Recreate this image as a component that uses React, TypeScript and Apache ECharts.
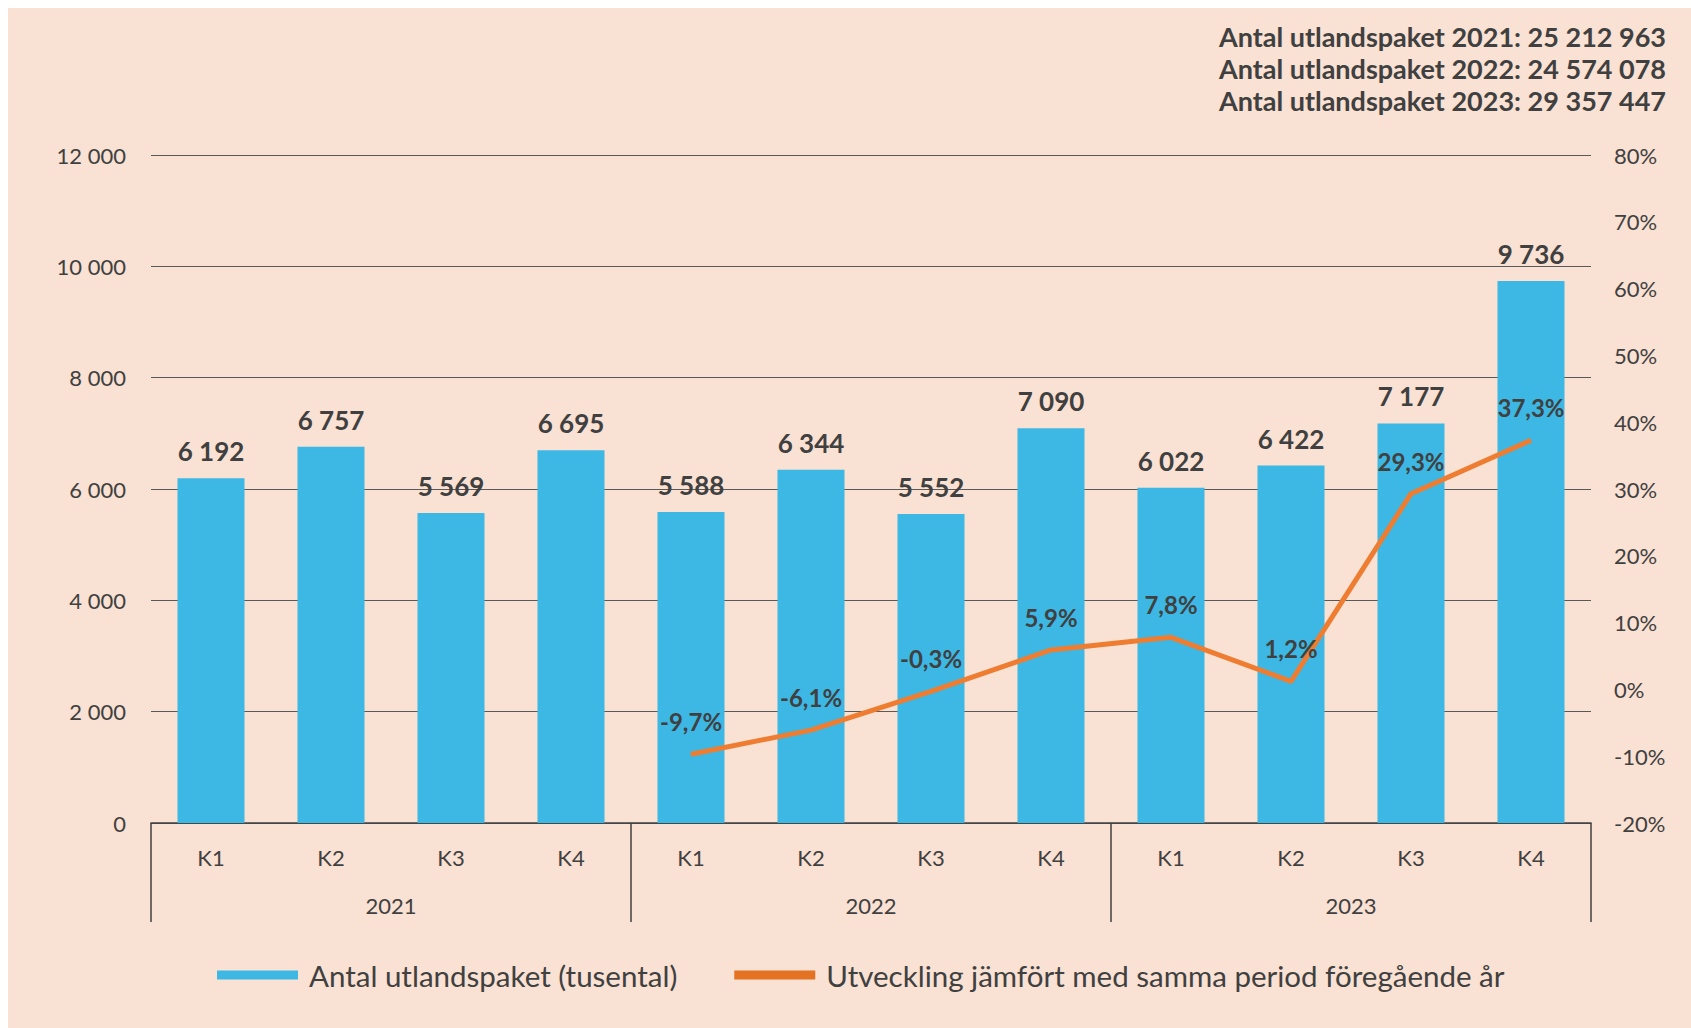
import React, { useEffect, useRef } from "react";
import * as echarts from "echarts";

const quarters = ["K1", "K2", "K3", "K4", "K1", "K2", "K3", "K4", "K1", "K2", "K3", "K4"];
const years = ["2021", "2022", "2023"];
const packages = [6192, 6757, 5569, 6695, 5588, 6344, 5552, 7090, 6022, 6422, 7177, 9736];
const growth = [null, null, null, null, -9.7, -6.1, -0.3, 5.9, 7.8, 1.2, 29.3, 37.3];
const totals = [
  "Antal utlandspaket 2021: 25 212 963",
  "Antal utlandspaket 2022: 24 574 078",
  "Antal utlandspaket 2023: 29 357 447",
];
const seriesNames = ["Antal utlandspaket (tusental)", "Utveckling jämfört med samma period föregående år"];

const FONT = "Lato, 'Open Sans', sans-serif";
const TEXT = "#404040";
const BAR = "#3DB7E4";
const LINE = "#EE7D31";

const fmtThousands = (v: number) => String(v).replace(/\B(?=(\d{3})+(?!\d))/g, " ");

export default function App() {
  const ref = useRef<HTMLDivElement>(null);
  useEffect(() => {
    if (!ref.current) return;
    const chart = echarts.init(ref.current, undefined, { renderer: "svg" });
    chart.setOption({
      animation: false,
      backgroundColor: "#F9E1D3",
      textStyle: { fontFamily: FONT },
      grid: { left: 143, right: 100, top: 147, bottom: 205, containLabel: false },
      legend: {
        left: 204,
        top: 947,
        icon: "rect",
        itemWidth: 81,
        itemHeight: 9,
        itemGap: 57,
        textStyle: { color: TEXT, fontSize: 29.5, fontFamily: FONT, padding: [0, 0, 0, 6] },
        data: [
          { name: seriesNames[0], itemStyle: { color: BAR } },
          { name: seriesNames[1], itemStyle: { color: "#E37222" } },
        ],
      },
      graphic: totals.map((t, i) => ({
        type: "text",
        right: 25,
        top: 15 + i * 32,
        style: {
          text: t,
          fill: TEXT,
          font: `bold 27px ${FONT}`,
          textAlign: "right",
        },
      })),
      xAxis: [
        {
          type: "category",
          data: quarters,
          axisLine: { onZero: false, lineStyle: { color: TEXT, width: 1.5 } },
          axisTick: { show: false },
          axisLabel: { color: TEXT, fontSize: 22, margin: 23, fontFamily: FONT },
        },
        {
          type: "category",
          data: years,
          position: "bottom",
          axisLine: { show: false, onZero: false },
          axisTick: { show: true, length: 99, lineStyle: { color: TEXT, width: 1.5 } },
          axisLabel: { color: TEXT, fontSize: 22, margin: 71, fontFamily: FONT },
          splitLine: { show: false },
        },
      ],
      yAxis: [
        {
          type: "value",
          min: 0,
          max: 12000,
          interval: 2000,
          axisLine: { show: false },
          axisTick: { show: false },
          splitLine: { lineStyle: { color: "#595959", width: 1 } },
          axisLabel: {
            color: TEXT,
            fontSize: 22,
            margin: 25,
            fontFamily: FONT,
            formatter: (v: number) => fmtThousands(v),
          },
        },
        {
          type: "value",
          min: -20,
          max: 80,
          interval: 10,
          axisLine: { show: false },
          axisTick: { show: false },
          splitLine: { show: false },
          axisLabel: {
            color: TEXT,
            fontSize: 22,
            margin: 23,
            fontFamily: FONT,
            formatter: (v: number) => `${v}%`,
          },
        },
      ],
      series: [
        {
          name: seriesNames[0],
          type: "bar",
          data: packages,
          barWidth: 67,
          itemStyle: { color: BAR },
          label: {
            show: true,
            position: "top",
            distance: 14,
            color: TEXT,
            fontSize: 26,
            fontWeight: "bold",
            fontFamily: FONT,
            formatter: (p: any) => fmtThousands(p.value),
          },
        },
        {
          name: seriesNames[1],
          type: "line",
          yAxisIndex: 1,
          data: growth,
          symbol: "circle",
          symbolSize: 1,
          showSymbol: true,
          itemStyle: { color: LINE },
          lineStyle: { color: LINE, width: 5 },
          label: {
            show: true,
            position: "top",
            distance: 20,
            color: TEXT,
            fontSize: 24,
            fontWeight: "bold",
            fontFamily: FONT,
            formatter: (p: any) => `${Number(p.value).toFixed(1).replace(".", ",")}%`,
          },
          z: 3,
        },
      ],
    });
    return () => chart.dispose();
  }, []);
  return (
    <div
      ref={ref}
      style={{ position: "absolute", left: 8, top: 8, width: 1683, height: 1020 }}
    />
  );
}
